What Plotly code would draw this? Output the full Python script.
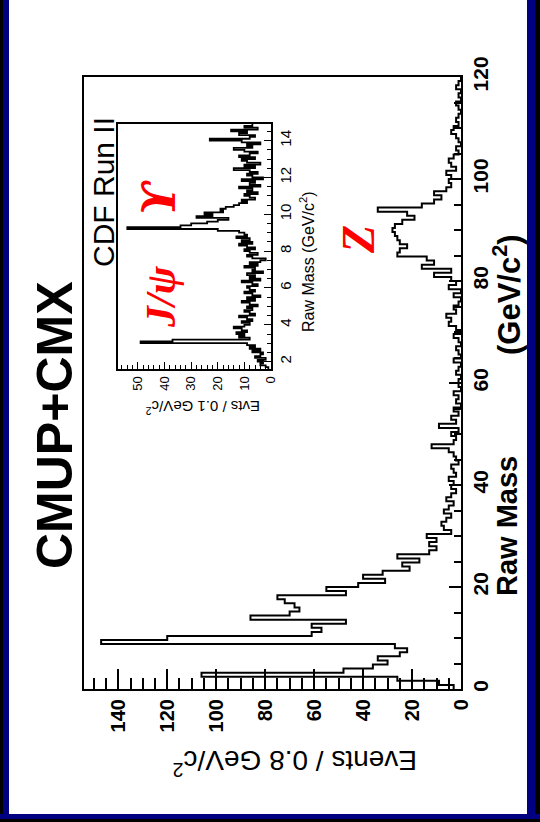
import numpy as np
import plotly.graph_objects as go

# ---- main histogram: dimuon raw mass, 0.8 GeV/c^2 bins from 0 to 120 ----
main_lo, main_w = 0.0, 0.8
main_counts = [
    3, 9, 26, 106, 48, 36, 30, 34, 25, 22,            # 0 - 8
    27, 147, 120, 61, 57, 61, 47, 86, 70, 66,         # 8 - 16
    68, 72, 75, 47, 55, 42, 31, 40, 32, 21,           # 16 - 24
    24, 17, 26, 13, 10, 13, 10, 14, 4, 7,             # 24 - 32
    8, 6, 4, 7, 5, 3, 6, 4, 2, 4,                     # 32 - 40
    3, 5, 2, 3, 4, 1, 2, 3, 5, 12,                    # 40 - 48
    3, 2, 4, 1, 9, 2, 4, 1, 3, 0,                     # 48 - 56
    2, 1, 3, 0, 1, 1, 0, 2, 1, 0,                     # 56 - 64
    3, 0, 1, 2, 0, 1, 3, 0, 2, 5,                     # 64 - 72
    4, 6, 2, 3, 1, 0, 3, 0, 5, 2,                     # 72 - 80
    4, 11, 4, 16, 11, 14, 26, 25, 22, 25,             # 80 - 88
    26, 27, 28, 27, 24, 19, 22, 34, 16, 11,           # 88 - 96
    8, 11, 6, 4, 5, 4, 6, 2, 4, 5,                    # 96 - 104
    3, 1, 2, 0, 1, 2, 4, 3, 1, 2,                     # 104 - 112
    1, 0, 1, 2, 0, 1, 0, 2, 1, 0,                     # 112 - 120
]

# ---- inset: low-mass region, 0.1 GeV/c^2 bins from 1.6 ----
ins_lo, ins_w = 1.6, 0.1
ins_counts = [
    1, 2, 4, 3, 5, 2, 6, 4, 3,                        # 1.6 - 2.5
    7, 4, 8, 6, 9,                                    # 2.5 - 3.0
    49, 37, 8,                                        # J/psi
    12, 10, 13, 9, 11, 14, 10,                        # 3.3 - 4.0
    8, 11, 7, 9, 12, 6, 8, 10, 7, 9,                  # 4 - 5
    5, 8, 11, 6, 9, 4, 7, 10, 6, 8,                   # 5 - 6
    9, 5, 7, 11, 4, 8, 6, 9, 3, 7,                    # 6 - 7
    6, 10, 5, 8, 4, 2, 7, 9, 5, 8,                    # 7 - 8
    10, 6, 9, 12, 7, 11, 8, 13, 9, 10,                # 8 - 9
    12, 20, 54, 34, 30, 24, 20, 16, 28, 22,           # 9 - 10 (Upsilon)
    25, 18, 19, 17, 14, 12, 9, 11, 6, 8,              # 10 - 11
    10, 5, 9, 7, 12, 4, 8, 6, 11, 3,                  # 11 - 12
    7, 9, 5, 8, 14, 6, 10, 4, 9, 11,                  # 12 - 13
    6, 12, 8, 5, 10, 14, 7, 9, 4, 11,                 # 13 - 14
    23, 8, 6, 12, 9, 15, 5, 10, 7,                    # 14 - 14.9
]

# ---- page geometry (pixels) ----
W, H = 540, 822
PL, PR, PT, PB = 84, 461, 77, 689          # main frame
IL, IR, IT, IB = 118, 271, 124, 369        # inset frame


def px(xp):
    return (xp - PL) / (PR - PL)


def py(yp):
    return (PB - yp) / (PB - PT)


def step_outline(lo, w, counts):
    edges = lo + w * np.arange(len(counts) + 1)
    xs = list(counts) + [counts[-1]]
    return xs, list(edges)


fig = go.Figure()

mx, my = step_outline(main_lo, main_w, main_counts)
fig.add_trace(go.Scatter(x=mx, y=my, mode="lines", line=dict(color="black", width=2, shape="vh"),
                         xaxis="x", yaxis="y", showlegend=False, hoverinfo="skip"))

ix, iy = step_outline(ins_lo, ins_w, ins_counts)
fig.add_trace(go.Scatter(x=ix, y=iy, mode="lines", line=dict(color="black", width=1.8, shape="vh"),
                         xaxis="x2", yaxis="y2", showlegend=False, hoverinfo="skip"))

sans = "Liberation Sans"
serif = "Liberation Serif"

fig.update_layout(
    width=W, height=H,
    margin=dict(l=PL, r=W - PR, t=PT, b=H - PB, pad=0),
    paper_bgcolor="white", plot_bgcolor="white",
    showlegend=False,
    xaxis=dict(
        domain=[0, 1], range=[154, 0], anchor="y",
        showline=True, mirror=True, linecolor="black", linewidth=2,
        showgrid=False, zeroline=False,
        ticks="inside", ticklen=20, tickwidth=1.5, tickcolor="black",
        tick0=0, dtick=20, tickangle=-90,
        tickfont=dict(family=sans, size=20, color="black", weight="bold"),
        minor=dict(ticks="inside", ticklen=11, tickwidth=1.5, tickcolor="black", dtick=5, showgrid=False),
    ),
    yaxis=dict(
        domain=[0, 1], range=[0, 120], anchor="x", side="right",
        showline=True, mirror=True, linecolor="black", linewidth=2,
        showgrid=False, zeroline=False,
        ticks="inside", ticklen=12, tickwidth=1.5, tickcolor="black",
        tick0=0, dtick=20, tickangle=-90,
        tickfont=dict(family=sans, size=21, color="black", weight="bold"),
        minor=dict(ticks="inside", ticklen=7, tickwidth=1.5, tickcolor="black", dtick=5, showgrid=False),
    ),
    xaxis2=dict(
        domain=[px(IL), px(IR)], range=[57.5, 0], anchor="y2",
        showline=True, mirror=True, linecolor="black", linewidth=2,
        showgrid=False, zeroline=False,
        ticks="inside", ticklen=7, tickwidth=1.2, tickcolor="black",
        tick0=0, dtick=10, tickangle=-90,
        tickfont=dict(family=sans, size=13, color="black"),
        minor=dict(ticks="inside", ticklen=4, tickwidth=1.2, tickcolor="black", dtick=2, showgrid=False),
    ),
    yaxis2=dict(
        domain=[py(IB), py(IT)], range=[1.6, 14.9], anchor="x2", side="right",
        showline=True, mirror=True, linecolor="black", linewidth=2,
        showgrid=False, zeroline=False,
        ticks="inside", ticklen=7, tickwidth=1.2, tickcolor="black",
        tick0=0, dtick=2, tickangle=-90,
        tickfont=dict(family=sans, size=15, color="black"),
        minor=dict(ticks="inside", ticklen=4, tickwidth=1.2, tickcolor="black", dtick=0.5, showgrid=False),
    ),
)


def label(text, xp, yp, size, angle, color="black", family=sans, weight="normal", style="normal"):
    fig.add_annotation(text=text, x=px(xp), y=py(yp), xref="paper", yref="paper",
                       showarrow=False, textangle=angle, xanchor="center", yanchor="middle",
                       font=dict(family=family, size=size, color=color, weight=weight, style=style))


label("CMUP+CMX", 55, 425, 50, -90, weight="bold")
label("Raw Mass", 507, 526, 29, -90, weight="bold")
label("(GeV/c<sup>2</sup>)", 507, 295, 31, -90, weight="bold")
label("Events / 0.8 GeV/c<sup>2</sup>", 295, 763, 28, 180)
label("CDF Run II", 103, 192, 30, -90)
label("Evts / 0.1 GeV/c<sup>2</sup>", 203, 408, 15, 180)
label("Raw Mass (GeV/c<sup>2</sup>)", 307, 262, 16, -90)
label("J/\u03c8", 161, 297, 42, -90, color="#ff0000", family=serif, weight="bold", style="italic")
label("\u03d2", 159, 198, 46, -90, color="#ff0000", family="DejaVu Serif", weight="bold", style="italic")
label("Z", 358, 240, 46, -90, color="#ff0000", family=serif, weight="bold", style="italic")


# dark slide border on the left, right and bottom edges
def band(x0, x1, y0, y1, color):
    fig.add_shape(type="rect", xref="paper", yref="paper",
                  x0=px(x0), x1=px(x1), y0=py(y1), y1=py(y0),
                  line=dict(width=0), fillcolor=color, layer="above")


band(0, 9, 0, H, "#000080")
band(0, 3, 0, H, "#000000")
band(527, W, 0, H, "#000080")
band(535, W, 0, H, "#000000")
band(0, W, 814, H, "#000080")
band(0, W, 819, H, "#000000")

fig.write_html("out.html")
